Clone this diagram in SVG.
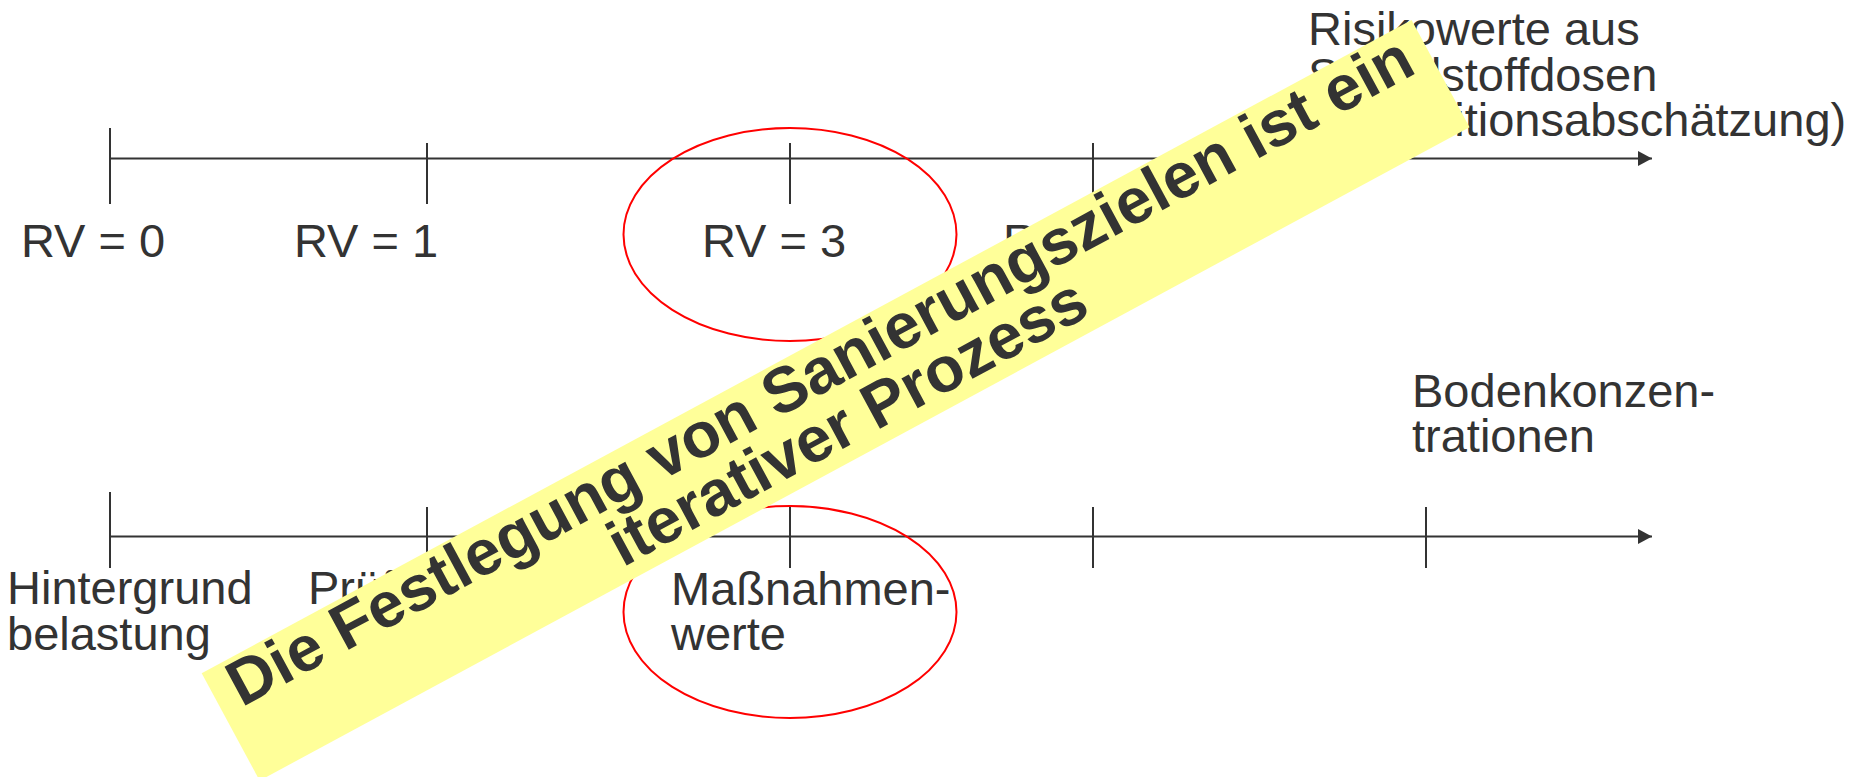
<svg xmlns="http://www.w3.org/2000/svg" width="1866" height="777" viewBox="0 0 1866 777">
<style>
  .lbl { font-family: "Liberation Sans", Arial, sans-serif; font-size: 47px; fill: #333333; }
  .axis { stroke: #333333; stroke-width: 2.2; fill: none; }
  .tick { stroke: #333333; stroke-width: 2; }
  .ring { stroke: #ff0000; stroke-width: 2; fill: none; }
  .ban { font-family: "Liberation Sans", Arial, sans-serif; font-size: 64px; font-weight: bold; fill: #333333; text-anchor: middle; }
</style>
<defs>
  <marker id="arr" markerUnits="userSpaceOnUse" markerWidth="15" markerHeight="16" refX="14" refY="7.5" orient="auto">
    <path d="M0,0 L14,7.5 L0,15 Z" fill="#333333"/>
  </marker>
</defs>
<rect width="1866" height="777" fill="#ffffff"/>
<g id="connectors">
  <line class="axis" x1="110" y1="158.5" x2="1652" y2="158.5" marker-end="url(#arr)"/>
  <line class="axis" x1="110" y1="536.5" x2="1652" y2="536.5" marker-end="url(#arr)"/>
</g>
<g id="ticks-top">
  <line class="tick" x1="110" y1="128" x2="110" y2="204"/>
  <line class="tick" x1="427" y1="143" x2="427" y2="204"/>
  <line class="tick" x1="790" y1="143" x2="790" y2="204"/>
  <line class="tick" x1="1093" y1="143" x2="1093" y2="204"/>
</g>
<g id="ticks-bottom">
  <line class="tick" x1="110" y1="492" x2="110" y2="568"/>
  <line class="tick" x1="427" y1="507" x2="427" y2="568"/>
  <line class="tick" x1="790" y1="507" x2="790" y2="568"/>
  <line class="tick" x1="1093" y1="507" x2="1093" y2="568"/>
  <line class="tick" x1="1426" y1="507" x2="1426" y2="568"/>
</g>
<g id="ring-top"><ellipse class="ring" cx="790" cy="234.5" rx="166.5" ry="106.5"/></g>
<g id="ring-bottom"><ellipse class="ring" cx="790" cy="612" rx="166.5" ry="106"/></g>
<g id="label-rv0"><text class="lbl" x="21" y="256.5">RV = 0</text></g>
<g id="label-rv1"><text class="lbl" x="294" y="256.5">RV = 1</text></g>
<g id="label-rv3"><text class="lbl" x="702" y="256.5">RV = 3</text></g>
<g id="label-rv10"><text class="lbl" x="1003" y="256.5">RV = 10</text></g>
<g id="title-top"><text class="lbl" x="1308" y="45">Risikowerte aus<tspan x="1308" y="90.5">Schadstoffdosen</tspan><tspan x="1308" y="135.5">(Expositionsabschätzung)</tspan></text></g>
<g id="title-bottom"><text class="lbl" x="1412" y="406.5">Bodenkonzen-<tspan x="1412" y="452">trationen</tspan></text></g>
<g id="label-hintergrund"><text class="lbl" x="7" y="604">Hintergrund<tspan x="7" y="649.5">belastung</tspan></text></g>
<g id="label-pruef"><text class="lbl" x="308" y="604">Prüfwerte</text></g>
<g id="label-massnahmen"><text class="lbl" x="671" y="604.5">Maßnahmen-<tspan x="671" y="650">werte</tspan></text></g>
<g id="banner" transform="translate(201.7,673.3) rotate(-28.37)">
  <rect x="0" y="0" width="1375" height="122" fill="#ffff99"/>
  <text class="ban" x="687.5" y="49">Die Festlegung von Sanierungszielen ist ein</text>
  <text class="ban" x="687.5" y="107">iterativer Prozess</text>
</g>
</svg>
